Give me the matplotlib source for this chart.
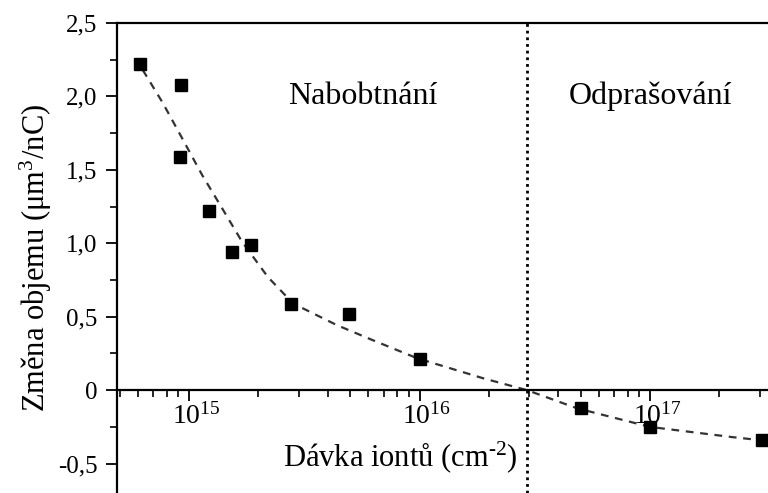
import numpy as np
import matplotlib
matplotlib.use('Agg')
import matplotlib.pyplot as plt
import matplotlib.transforms as mtransforms
from matplotlib.ticker import FixedLocator, FuncFormatter, LogLocator

plt.rcParams['font.family'] = ['Liberation Serif', 'DejaVu Serif']
plt.rcParams['mathtext.fontset'] = 'custom'
plt.rcParams['mathtext.rm'] = 'Liberation Serif'
plt.rcParams['mathtext.it'] = 'Liberation Serif:italic'

# Namerene body (davka iontu, zmena objemu)
davka = [6.1e14, 9.2e14, 9.1e14, 1.22e15, 1.54e15, 1.86e15, 2.77e15, 4.96e15, 1.0e16, 5.0e16, 1.0e17, 3.05e17]
objem = [2.22, 2.08, 1.59, 1.22, 0.94, 0.99, 0.59, 0.52, 0.21, -0.12, -0.25, -0.34]

# Prolozena krivka
fit_x = [6.3e14, 7.7e14, 9.3e14, 1.14e15, 1.39e15, 1.70e15, 2.20e15, 2.83e15, 4.38e15,
         6.28e15, 9.75e15, 1.88e16, 2.93e16, 4.82e16, 1.0e17, 2.29e17, 3.0e17]
fit_y = [2.18, 1.955, 1.72, 1.465, 1.24, 1.01, 0.77, 0.59, 0.443,
         0.34, 0.218, 0.082, 0.0, -0.123, -0.25, -0.32, -0.34]

hranice = 2.93e16
y_ticks = [-0.5, 0, 0.5, 1.0, 1.5, 2.0, 2.5]

fig = plt.figure(figsize=(7.68, 4.93), dpi=100)
ax = fig.add_axes([117 / 768, 0, 1 - 117 / 768, 1 - 23 / 493])

ax.plot(fit_x, fit_y, ls=(0, (3.5, 3)), color='#333333', lw=1.6, zorder=2)
ax.plot(davka, objem, 's', color='black', ms=8.5, zorder=3)
ax.axvline(hranice, ls=(0, (1, 1.4)), color='black', lw=2, zorder=1)

ax.set_xscale('log')
ax.set_xlim(4.87e14, 3.25e17)
ax.set_ylim(-0.70, 2.5)

ax.spines['bottom'].set_position(('data', 0))
ax.spines['right'].set_visible(False)
for s in ['left', 'top', 'bottom']:
    ax.spines[s].set_linewidth(1.6)

ax.xaxis.set_major_locator(LogLocator(base=10, numticks=10))
ax.xaxis.set_minor_locator(LogLocator(base=10, subs=np.arange(2, 10), numticks=10))
ax.xaxis.set_major_formatter(FuncFormatter(lambda v, p: r'$10^{%d}$' % round(np.log10(v))))
ax.tick_params(axis='x', which='major', direction='out', length=8, width=1.3, labelsize=20, pad=1)
ax.tick_params(axis='x', which='minor', direction='out', length=5, width=1.2)

# posun popisku 10^n doprava, aby "10" stalo pod carkou
posun = mtransforms.ScaledTranslation(7 / 100, 0, fig.dpi_scale_trans)
for t in ax.xaxis.get_major_ticks():
    t.label1.set_transform(t.label1.get_transform() + posun)

ax.yaxis.set_major_locator(FixedLocator(y_ticks))
ax.yaxis.set_minor_locator(FixedLocator([-0.25, 0.25, 0.75, 1.25, 1.75, 2.25]))
ax.yaxis.set_major_formatter(FuncFormatter(lambda v, p: '0' if v == 0 else ('%.1f' % v).replace('.', ',')))
ax.tick_params(axis='y', which='major', direction='out', length=8, width=1.3, labelsize=18, pad=6)
ax.tick_params(axis='y', which='minor', direction='out', length=5, width=1.2)

ax.set_ylabel('Změna objemu (μm$^3$/nC)', fontsize=22, labelpad=3)
ax.set_xlabel('Dávka iontů (cm$^{\u20102}$)', fontsize=22)
ax.xaxis.set_label_coords(0.435, 0.115)

ax.text(5.7e15, 2.0, 'Nabobtnání', fontsize=23, ha='center', va='center')
ax.text(1.0e17, 2.0, 'Odprašování', fontsize=23, ha='center', va='center')

fig.savefig('out.png', dpi=100)
